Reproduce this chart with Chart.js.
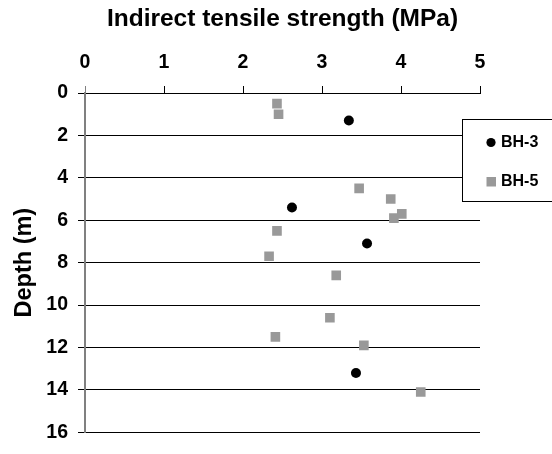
<!DOCTYPE html>
<html>
<head>
<meta charset="utf-8">
<script src="https://cdn.jsdelivr.net/npm/chart.js@4/dist/chart.umd.min.js"></script>
<style>
html,body{margin:0;padding:0;background:#fff;}
#wrap{width:552px;height:454px;}
</style>
</head>
<body>
<div id="wrap"><canvas id="c" width="552" height="454"></canvas></div>
<script>
const xTicks = [0, 1, 2, 3, 4, 5];
const yTicks = [0, 2, 4, 6, 8, 10, 12, 14, 16];
const seriesNames = ['BH-3', 'BH-5'];
const bh3Depth = [1.3, 5.4, 7.1, 13.2];
const bh3Its   = [3.34, 2.62, 3.57, 3.43];
const bh5Depth = [0.5, 1.0, 4.5, 5.0, 5.7, 5.9, 6.5, 7.7, 8.6, 10.6, 11.5, 11.9, 14.1];
const bh5Its   = [2.43, 2.45, 3.47, 3.87, 4.01, 3.91, 2.43, 2.33, 3.18, 3.10, 2.41, 3.53, 4.25];

const FONT = '"Liberation Sans", Arial, sans-serif';
const toPts = (xs, ys) => xs.map((v, i) => ({x: v, y: ys[i]}));

const legendPlugin = {
  id: 'boxLegend',
  afterDraw(chart) {
    const ctx = chart.ctx;
    ctx.save();
    ctx.fillStyle = '#ffffff';
    ctx.fillRect(462.5, 119.5, 100, 82);
    ctx.strokeStyle = '#000000';
    ctx.lineWidth = 1;
    ctx.strokeRect(462.5, 119.5, 100, 82);
    const ds = chart.data.datasets;
    const rows = [142.5, 181.5];
    ds.forEach((d, i) => {
      const cy = rows[i];
      ctx.fillStyle = d.backgroundColor;
      if (d.pointStyle === 'circle') {
        ctx.beginPath();
        ctx.arc(491, cy, 4.6, 0, Math.PI * 2);
        ctx.fill();
      } else {
        ctx.fillRect(486.5, cy - 4.5, 9.5, 9.5);
      }
      ctx.fillStyle = '#000';
      ctx.font = 'bold 16px ' + FONT;
      ctx.textBaseline = 'middle';
      ctx.textAlign = 'left';
      ctx.fillText(d.label, 501, cy + 0.5);
    });
    ctx.restore();
  }
};

new Chart(document.getElementById('c'), {
  type: 'scatter',
  data: {
    datasets: [
      {label: seriesNames[0], data: toPts(bh3Its, bh3Depth), pointStyle: 'circle',
       backgroundColor: '#000000', borderColor: '#000000', pointRadius: 5, borderWidth: 0},
      {label: seriesNames[1], data: toPts(bh5Its, bh5Depth), pointStyle: 'rect',
       backgroundColor: '#999999', borderColor: '#999999', pointRadius: 6.8, borderWidth: 0}
    ]
  },
  options: {
    responsive: false,
    animation: false,
    devicePixelRatio: 1,
    layout: {padding: {left: 0, top: 0, right: 72, bottom: 14}},
    plugins: {legend: {display: false}, tooltip: {enabled: false}},
    scales: {
      x: {
        type: 'linear', position: 'top', min: 0, max: 5,
        afterBuildTicks: s => { s.ticks = xTicks.map(v => ({value: v})); },
        afterFit: s => { s.height = 93; },
        grid: {drawOnChartArea: false, drawTicks: true, tickLength: 7, lineWidth: 1,
               tickColor: c => (c.index === 0 ? '#808080' : '#000')},
        border: {display: true, color: '#000', width: 1},
        ticks: {color: '#000', padding: 12, font: {family: FONT, size: 19.5, weight: 'bold'}},
        title: {display: true, text: 'Indirect tensile strength (MPa)', color: '#000',
                padding: {top: 5, bottom: 0}, font: {family: FONT, size: 24.5, weight: 'bold'}}
      },
      y: {
        type: 'linear', reverse: true, min: 0, max: 16,
        afterBuildTicks: s => { s.ticks = yTicks.map(v => ({value: v})); },
        afterFit: s => { s.width = 85; },
        grid: {color: '#000', lineWidth: 1, drawTicks: true, tickLength: 7, tickColor: '#000'},
        border: {display: true, color: '#808080', width: 2},
        ticks: {color: '#000', padding: 10, font: {family: FONT, size: 19.5, weight: 'bold'}},
        title: {display: true, text: 'Depth (m)', color: '#000',
                padding: {top: 10, bottom: 0}, font: {family: FONT, size: 23.5, weight: 'bold'}}
      }
    }
  },
  plugins: [legendPlugin]
});
</script>
</body>
</html>
